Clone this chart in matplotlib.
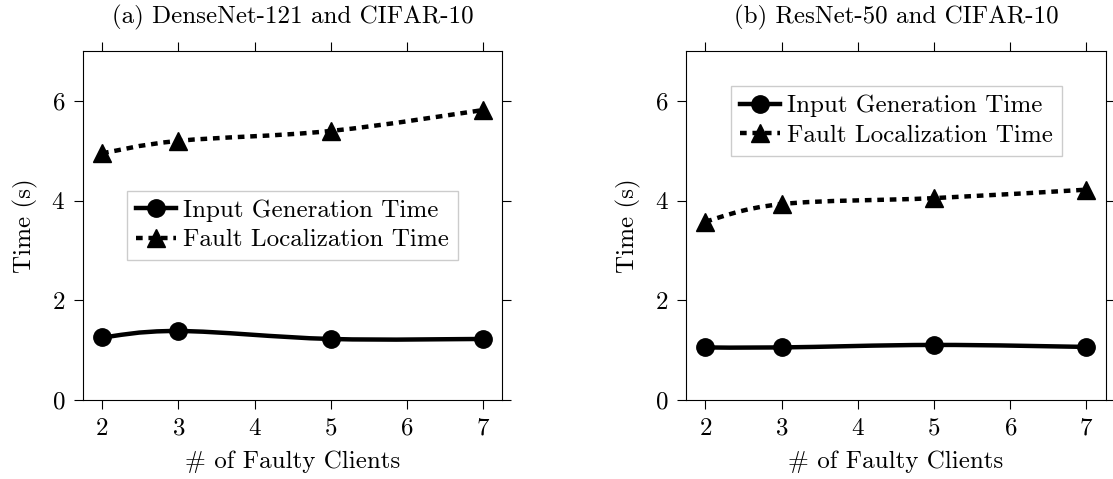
import matplotlib as mpl
mpl.use('Agg')
import matplotlib.pyplot as plt
from matplotlib.path import Path
from matplotlib.patches import PathPatch
from matplotlib.lines import Line2D

plt.rcParams['font.family'] = ['cmr10', 'DejaVu Serif']
plt.rcParams['mathtext.fontset'] = 'cm'
plt.rcParams['axes.formatter.use_mathtext'] = True
plt.rcParams['font.size'] = 18

# data
clients = [2, 3, 5, 7]
titles = ['(a) DenseNet-121 and CIFAR-10', '(b) ResNet-50 and CIFAR-10']
input_time = [[1.25, 1.38, 1.22, 1.22],
              [1.05, 1.05, 1.10, 1.06]]
fault_time = [[4.95, 5.20, 5.40, 5.82],
              [3.58, 3.93, 4.05, 4.22]]
legend_labels = ['Input Generation Time', 'Fault Localization Time']
legend_anchor = [(0.105, 0.600), (0.107, 0.900)]

DOT = (0, (1.5, 1.3))


def smooth_path(xs, ys, k=0.55):
    # tikz-like smooth curve through the points (cubic bezier segments)
    pts = list(zip(xs, ys))
    n = len(pts)
    verts = [pts[0]]
    codes = [Path.MOVETO]
    for i in range(n - 1):
        p0 = pts[i - 1] if i > 0 else pts[i]
        p1 = pts[i]
        p2 = pts[i + 1]
        p3 = pts[i + 2] if i + 2 < n else pts[i + 1]
        c1 = (p1[0] + (p2[0] - p0[0]) * k / 3, p1[1] + (p2[1] - p0[1]) * k / 3)
        c2 = (p2[0] - (p3[0] - p1[0]) * k / 3, p2[1] - (p3[1] - p1[1]) * k / 3)
        verts += [c1, c2, p2]
        codes += [Path.CURVE4] * 3
    return Path(verts, codes)


fig = plt.figure(figsize=(11.13, 4.79), dpi=100)
lefts = [0.0746, 0.6166]

for i in range(2):
    ax = fig.add_axes([lefts[i], 0.1656, 0.3767, 0.7273])
    ax.add_patch(PathPatch(smooth_path(clients, input_time[i]), fill=False,
                           lw=3.2, ec='black', capstyle='butt', zorder=3))
    ax.add_patch(PathPatch(smooth_path(clients, fault_time[i]), fill=False,
                           lw=3.2, ec='black', ls=DOT, capstyle='butt', zorder=3))
    ax.plot(clients, input_time[i], 'o', color='black', ms=12.5, zorder=4)
    ax.plot(clients, fault_time[i], '^', color='black', ms=13.5, zorder=4)

    ax.set_xlim(1.75, 7.25)
    ax.set_ylim(0, 7)
    ax.set_xticks([2, 3, 4, 5, 6, 7])
    ax.set_yticks([0, 2, 4, 6])
    ax.tick_params(direction='out', length=6.3, width=0.8, pad=6.5,
                   top=True, right=True, labeltop=False, labelright=False)
    for s in ax.spines.values():
        s.set_linewidth(0.8)
    ax.set_xlabel('# of Faulty Clients', labelpad=8)
    ax.set_ylabel('Time (s)', labelpad=10)
    ax.set_title(titles[i], pad=20, fontsize=18)

    handles = [Line2D([], [], color='black', lw=3.2, marker='o', ms=12.5),
               Line2D([], [], color='black', lw=3.2, ls=DOT, marker='^', ms=13.5)]
    ax.legend(handles, legend_labels, loc='upper left',
              bbox_to_anchor=legend_anchor[i], borderaxespad=0,
              fancybox=False, edgecolor='#cccccc', framealpha=1,
              handlelength=1.6, handletextpad=0.3, labelspacing=0.28,
              borderpad=0.35, numpoints=1)

fig.savefig('out.png', dpi=100)
plt.close()
